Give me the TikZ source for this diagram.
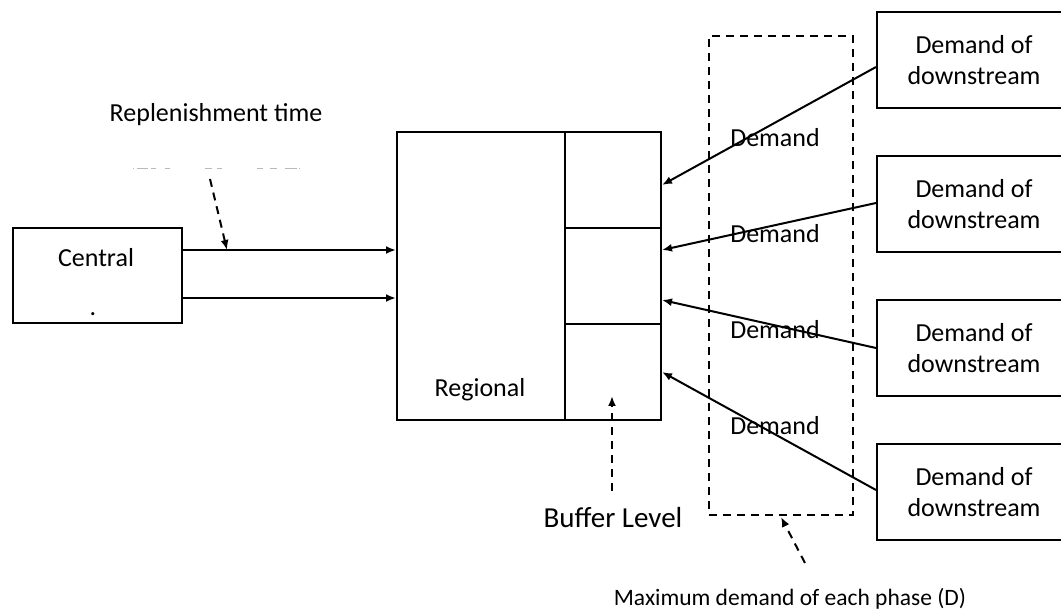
\documentclass[tikz,border=0pt]{standalone}
\usepackage{fontspec}
\setmainfont{Carlito}
\usetikzlibrary{arrows.meta}
\begin{document}
\begin{tikzpicture}[x=1pt,y=-1pt,
  box/.style={draw, line width=2pt, inner sep=0pt, anchor=north west},
  lbl/.style={font=\fontsize{26}{31}\selectfont, inner sep=0pt},
  conn/.style={line width=2pt, -{Latex[length=10pt,width=8pt]}},
  dconn/.style={line width=2pt, dash pattern=on 8pt off 6pt, -{Latex[length=10pt,width=8pt]}},
  dsbox/.style={draw, line width=2pt, dash pattern=on 8pt off 6pt, inner sep=0pt, anchor=north west},
  ds/.style={draw, line width=2pt, align=center, inner sep=0pt, anchor=north west,
    minimum width=194pt, minimum height=96pt, font=\fontsize{26}{31}\selectfont}]
\useasboundingbox (0,0) rectangle (1061,612);
\fill[white] (0,0) rectangle (1061,612);

% Central
\node[box, minimum width=169pt, minimum height=95pt] (central) at (12,227) {};
\node[lbl] (centraltxt) at (96,258) {Central};
\node[lbl, anchor=base] (centraldot) at (93,316) {.};

% Regional
\node[box, minimum width=168pt, minimum height=288pt] (regional) at (396,131) {};
\node[lbl] (regionaltxt) at (480,390) {Regional};
\node[box, minimum width=96pt, minimum height=96pt] (buf1) at (564,131) {};
\node[box, minimum width=96pt, minimum height=96pt] (buf2) at (564,227) {};
\node[box, minimum width=96pt, minimum height=96pt] (buf3) at (564,323) {};

% Central -> Regional
\coordinate (c1) at (181,250);
\coordinate (c2) at (181,298);
\draw[conn] (c1) -- (regional.west |- c1);
\draw[conn] (c2) -- (regional.west |- c2);

% Replenishment time
\node[lbl, anchor=base] (rep) at (216,122) {Replenishment time};
\draw[gray!55, line width=1pt]
  (133,169) -- (134,169) (137,169) -- (148,169) (151,169) -- (156,169) (165,169) -- (170,169)
  (205,169) -- (212,169) (217,169) -- (222,169) (257,169) -- (263,169) (270,169) -- (277,169)
  (285,169) -- (297,169) (299,169) -- (300,169);
\coordinate (reps) at (210,179);
\coordinate (rept) at (227,250);
\draw[dconn] (reps) -- (rept);

% Dashed demand region
\node[dsbox, minimum width=144pt, minimum height=479pt] (region) at (708,35) {};
\node[lbl] (d1) at (775,138) {Demand};
\node[lbl] (d2) at (775,234) {Demand};
\node[lbl] (d3) at (775,330) {Demand};
\node[lbl] (d4) at (775,426) {Demand};

% Downstream boxes
\node[ds] (ds1) at (876,11) {Demand of\\downstream};
\node[ds] (ds2) at (876,155) {Demand of\\downstream};
\node[ds] (ds3) at (876,299) {Demand of\\downstream};
\node[ds] (ds4) at (876,443) {Demand of\\downstream};

\coordinate (t1) at (662,185);
\coordinate (t2) at (662,250);
\coordinate (t3) at (662,300);
\coordinate (t4) at (662,372);
\draw[conn] (ds1.west |- 0,67) -- (t1);
\draw[conn] (ds2.west |- 0,203) -- (t2);
\draw[conn] (ds3.west |- 0,348) -- (t3);
\draw[conn] (ds4.west |- 0,490) -- (t4);

% Buffer level
\coordinate (bs) at (612,491);
\coordinate (bt) at (612,396);
\draw[dconn] (bs) -- (bt);
\node[font=\fontsize{29}{34}\selectfont, inner sep=0pt, anchor=base] (buf) at (613,527) {Buffer Level};

% Maximum demand
\coordinate (ms) at (805,563);
\coordinate (mt) at (781,517);
\draw[dconn] (ms) -- (mt);
\node[font=\fontsize{23.5}{28}\selectfont, inner sep=0pt, anchor=base] (maxd) at (790,605) {Maximum demand of each phase (D)};
\end{tikzpicture}
\end{document}
